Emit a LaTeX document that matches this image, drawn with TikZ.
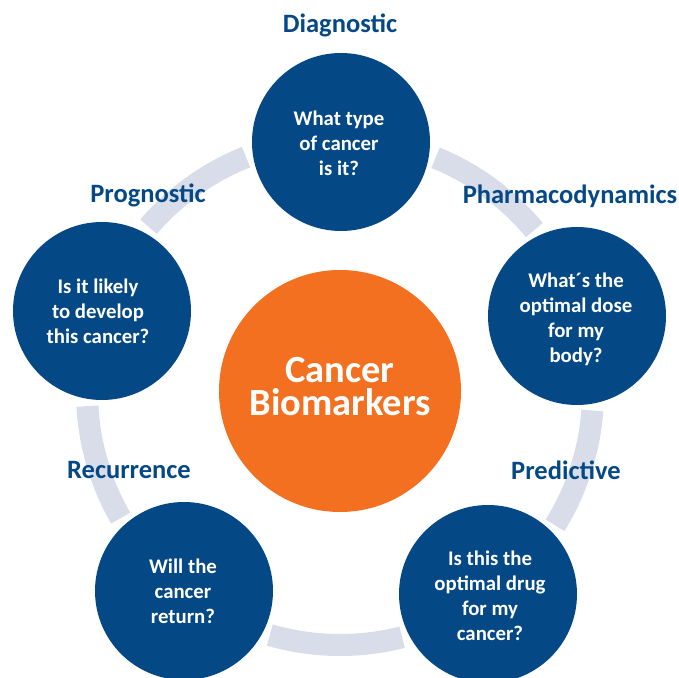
\documentclass[tikz,border=0pt]{standalone}
\usepackage{fontspec}
\setmainfont{Carlito}
\definecolor{cbblue}{HTML}{044885}
\definecolor{cborange}{HTML}{F37021}
\definecolor{cbring}{HTML}{D9DDEA}
\begin{document}
\begin{tikzpicture}[x=1pt,y=1pt,
  ringseg/.style={draw=cbring,line width=22pt},
  bluecirc/.style={circle,fill=cbblue,minimum size=178pt,inner sep=0pt},
  orangecirc/.style={circle,fill=cborange,minimum size=242pt,inner sep=0pt},
  qtext/.style={text=white,align=center,font=\bfseries\fontsize{20.8}{25}\selectfont},
  ctext/.style={text=white,align=center,font=\bfseries\fontsize{38.5}{33}\selectfont},
  lbl/.style={text=cbblue,anchor=base,font=\bfseries\fontsize{26.5}{30}\selectfont,inner sep=0pt}]
\useasboundingbox (0,0) rectangle (679,677);
\coordinate (C) at (340,285);
% ring segments
\draw[ringseg] (C) ++(111.8:253) arc[start angle=111.8,end angle=139.2,radius=253];
\draw[ringseg] (C) ++(183.2:253) arc[start angle=183.2,end angle=209.9,radius=253];
\draw[ringseg] (C) ++(253.9:253) arc[start angle=253.9,end angle=284.2,radius=253];
\draw[ringseg] (C) ++(328.2:253) arc[start angle=328.2,end angle=355.8,radius=253];
\draw[ringseg] (C) ++(39.8:253) arc[start angle=39.8,end angle=67.8,radius=253];
% circles
\node[orangecirc] (center) at (340,286) {};
\node[ctext] (centertext) at (340,290) {Cancer\\Biomarkers};
\node[bluecirc] (diag) at (341,535) {};
\node[bluecirc] (pharm) at (577,361) {};
\node[bluecirc] (pred) at (488,83) {};
\node[bluecirc] (recur) at (184,86) {};
\node[bluecirc] (progn) at (102,366) {};
\node[qtext] (diagq) at (339,534) {What type\\of cancer\\is it?};
\node[qtext] (pharmq) at (576,358) {What\textasciiacute s the\\optimal dose\\for my\\body?};
\node[qtext] (predq) at (490,81) {Is this the\\optimal drug\\for my\\cancer?};
\node[qtext] (recurq) at (183,86) {Will the\\cancer\\return?};
\node[qtext] (prognq) at (98,366) {Is it likely\\to develop\\this cancer?};
% labels
\node[lbl] (diagl) at (340,644) {Diagnostic};
\node[lbl] (prognl) at (148,474) {Prognostic};
\node[lbl] (pharml) at (570,473) {Pharmacodynamics};
\node[lbl] (recurl) at (129,198) {Recurrence};
\node[lbl] (predl) at (566,197) {Predictive};
\end{tikzpicture}
\end{document}
